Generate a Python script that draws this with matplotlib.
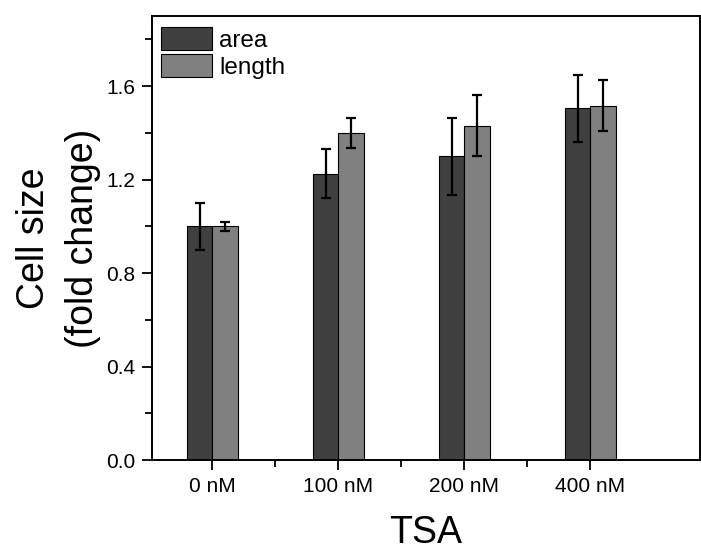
import numpy as np
import matplotlib
matplotlib.use('Agg')
import matplotlib.pyplot as plt
from matplotlib.ticker import MultipleLocator, FixedLocator

plt.rcParams['font.family'] = ['Liberation Sans', 'DejaVu Sans']

# --- Data ---
groups = ['0 nM', '100 nM', '200 nM', '400 nM']
area = [1.00, 1.225, 1.30, 1.505]
area_err = [0.10, 0.105, 0.165, 0.143]
length = [1.00, 1.40, 1.43, 1.517]
length_err = [0.02, 0.065, 0.13, 0.11]

x = np.arange(len(groups))
w = 0.2

fig = plt.figure(figsize=(7.01, 5.52), dpi=100)
ax = fig.add_axes([152 / 701, 1 - 460 / 552, 548 / 701, 444 / 552])

err_kw = dict(elinewidth=1.6, capsize=3.5, capthick=1.6, ecolor='black')
ax.bar(x - w / 2, area, w, yerr=area_err, color='#404040', edgecolor='black',
       linewidth=0.8, label='area', error_kw=err_kw)
ax.bar(x + w / 2, length, w, yerr=length_err, color='#808080', edgecolor='black',
       linewidth=0.8, label='length', error_kw=err_kw)

ax.set_xlim(-0.48, 3.87)
ax.set_ylim(0, 1.9)
ax.set_xticks(x)
ax.set_xticklabels(groups)
ax.xaxis.set_minor_locator(FixedLocator([0.5, 1.5, 2.5]))
ax.set_yticks([0.0, 0.4, 0.8, 1.2, 1.6])
ax.set_yticklabels(['0.0', '0.4', '0.8', '1.2', '1.6'])
ax.yaxis.set_minor_locator(MultipleLocator(0.2))
ax.tick_params(axis='both', which='major', direction='out', length=7, width=1.3,
               labelsize=15, pad=5)
ax.tick_params(axis='both', which='minor', direction='out', length=5, width=1.3)

for s in ax.spines.values():
    s.set_linewidth(1.4)

ax.set_xlabel('TSA', fontsize=27, labelpad=14)
ax.set_ylabel('Cell size\n(fold change)', fontsize=27, labelpad=4,
              linespacing=1.45)

ax.legend(loc='upper left', bbox_to_anchor=(9 / 548, 1 - 11 / 444),
          frameon=False, fontsize=17.5, handlelength=2.09,
          handleheight=1.06, handletextpad=0.31, labelspacing=0.1,
          borderaxespad=0, borderpad=0)

fig.savefig('out.png', dpi=100)
